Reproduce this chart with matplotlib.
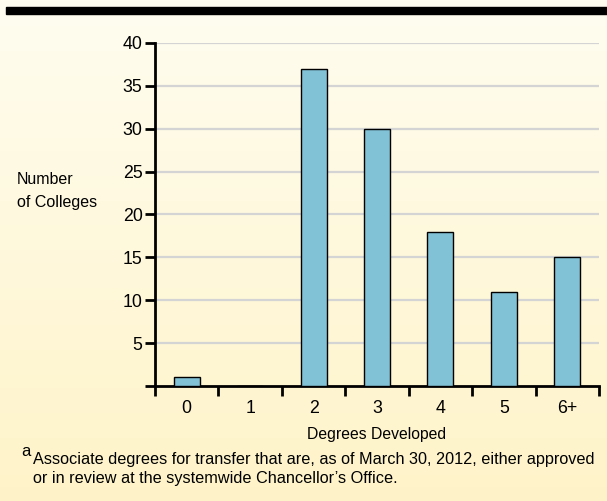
import numpy as np
import matplotlib.pyplot as plt

plt.rcParams['font.family'] = ['Liberation Sans', 'DejaVu Sans']

categories = ['0', '1', '2', '3', '4', '5', '6+']
colleges = [1, 0, 37, 30, 18, 11, 15]
yticks = [0, 5, 10, 15, 20, 25, 30, 35, 40]
ylabels = ['', '5', '10', '15', '20', '25', '30', '35', '40']

fig = plt.figure(figsize=(6.07, 5.01), dpi=100)

# background gradient (cream -> light yellow)
bg = fig.add_axes([0, 0, 1, 1], zorder=-10)
top = np.array([255, 253, 240]) / 255.0
bot = np.array([254, 243, 200]) / 255.0
t = np.linspace(0, 1, 256)[:, None]
grad = (top[None, :] * (1 - t) + bot[None, :] * t)[:, None, :]
bg.imshow(grad, aspect='auto', extent=[0, 1, 0, 1])
bg.axis('off')
# black band at top
bg.axhspan(1 - 14 / 501, 1 - 7 / 501, xmin=6 / 607, xmax=1, color='black')
bg.set_xlim(0, 1)
bg.set_ylim(0, 1)

ax = fig.add_axes([155 / 607, 1 - 386 / 501, 444 / 607, 343 / 501])
ax.patch.set_alpha(0)
x = np.arange(len(categories))
ax.bar(x, colleges, width=0.41, color='#82c2d6', edgecolor='black',
       linewidth=1.0, zorder=3)

ax.set_xlim(-0.5, 6.5)
ax.set_ylim(0, 40)
ax.set_yticks(yticks)
ax.set_yticklabels(ylabels, fontsize=12.8)
for yv in yticks[1:]:
    ax.axhline(yv, color='#d4d4d4', linewidth=1.6, zorder=1)

ax.set_xticks(np.arange(-0.5, 7, 1))
ax.set_xticklabels([])
ax.set_xticks(x, minor=True)
ax.set_xticklabels(categories, minor=True, fontsize=12.8)
ax.tick_params(axis='x', which='major', direction='out', length=7, width=2)
ax.tick_params(axis='x', which='minor', length=0, pad=10)
ax.tick_params(axis='y', direction='out', length=7, width=2, pad=2)

for s in ['top', 'right']:
    ax.spines[s].set_visible(False)
ax.spines['left'].set_linewidth(2)
ax.spines['bottom'].set_linewidth(2)

ax.set_xlabel('Degrees Developed', fontsize=11.3, labelpad=7)

fig.text(17 / 607, 1 - 191 / 501, 'Number\nof Colleges', fontsize=11.5,
         ha='left', va='center', linespacing=1.6)

fig.text(21 / 607, 1 - 456 / 501, 'a', fontsize=12, ha='left', va='baseline')
fig.text(33 / 607, 1 - 469 / 501,
         'Associate degrees for transfer that are, as of March 30, 2012, either approved\n'
         'or in review at the systemwide Chancellor\u2019s Office.',
         fontsize=11.7, ha='left', va='center', linespacing=1.4)

fig.savefig('out.png', dpi=100)
